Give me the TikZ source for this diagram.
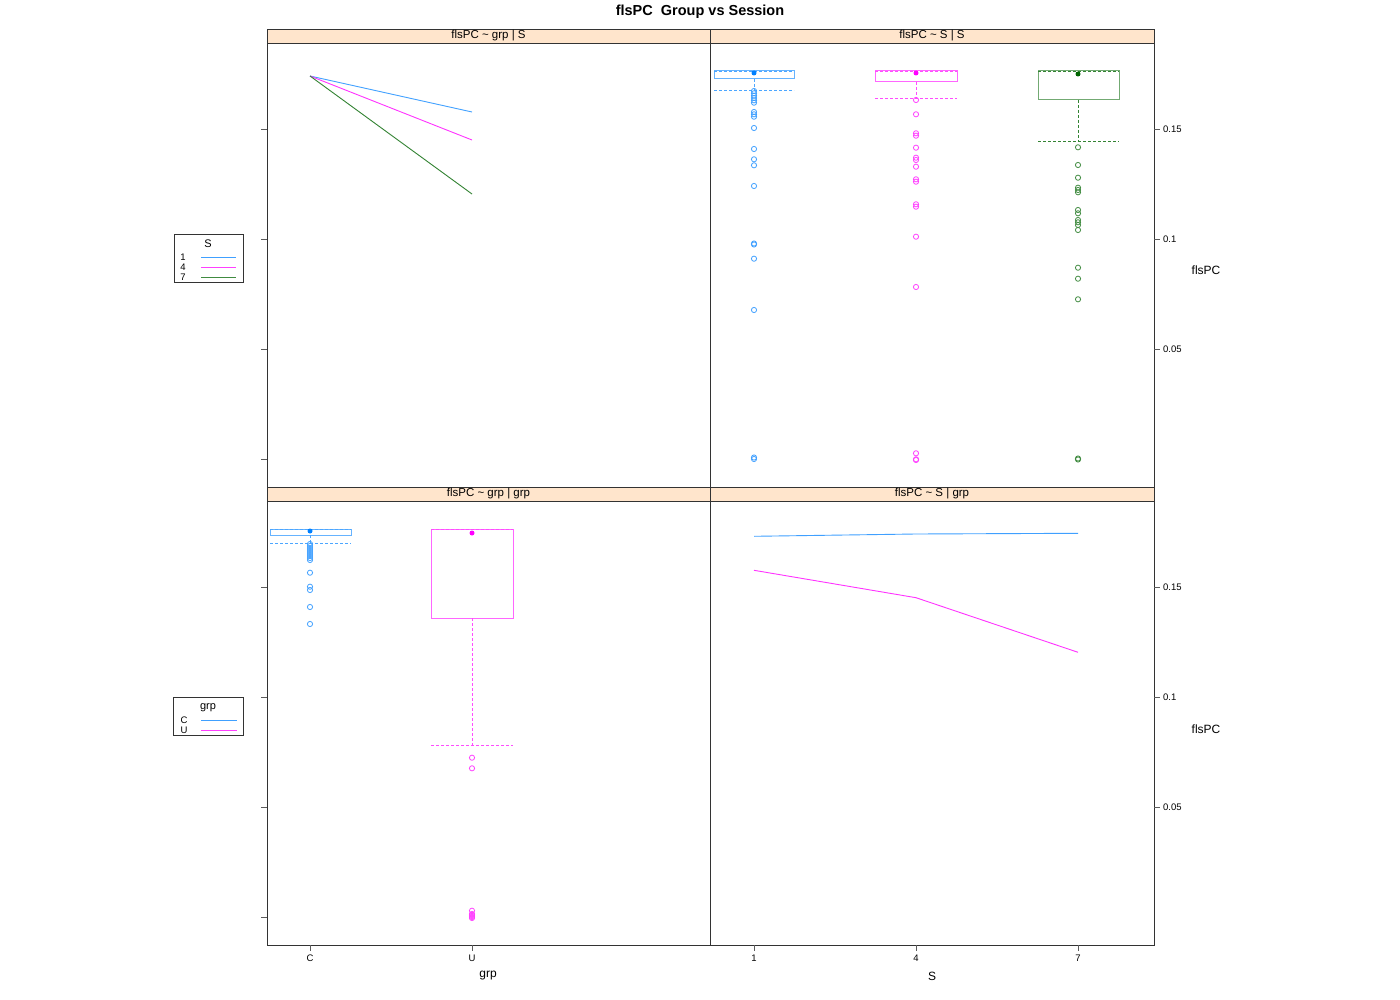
\documentclass[tikz,border=0pt]{standalone}
\usepackage{fontspec}
\setmainfont{Liberation Sans}
\definecolor{sblue}{HTML}{0080FF}
\definecolor{smag}{HTML}{FF00FF}
\definecolor{sgreen}{HTML}{006400}
\definecolor{stripbg}{HTML}{FFE5CC}
\definecolor{framecol}{HTML}{333333}
\begin{document}
\begin{tikzpicture}[
    x=1pt, y=-1pt,
    panel/.style={draw=framecol, line width=0.9pt},
    strip/.style={draw=framecol, fill=stripbg, line width=0.9pt},
    striptext/.style={font=\fontsize{11.5}{13}\selectfont, inner sep=0pt},
    ticklab/.style={font=\fontsize{9.5}{11}\selectfont, inner sep=0pt},
    axlab/.style={font=\fontsize{12}{14}\selectfont, inner sep=0pt},
    tickmark/.style={draw=framecol!80, line width=0.8pt},
    boxline/.style={line width=1pt},
    whisk/.style={dash pattern=on 3pt off 2pt, line width=0.8pt},
    outl/.style={line width=0.8pt},
    dataline/.style={line width=0.9pt}
  ]
  \fill[white] (0,0) rectangle (1400,1000);
  \useasboundingbox (0,0) rectangle (1400,1000);
  \node[font=\bfseries\fontsize{14.5}{17}\selectfont] (title) at (700,12) {flsPC\ \ Group vs Session};
  % panels and strips
  \foreach \px/\py/\w/\nm/\txt in {267/29/443/tl/{grp | S}, 710/29/444/tr/{S | S},
                                    267/487/443/bl/{grp | grp}, 710/487/444/br/{S | grp}} {
    \draw[panel] (\px,\py) rectangle ++(\w,458);
    \draw[strip] (\px,\py) rectangle ++(\w,14);
    \node[striptext] (st\nm) at ([xshift=\w*0.5pt,yshift=-7pt]\px,\py) {flsPC \textasciitilde\ \txt};
  }
  % left ticks (no labels)
  \foreach \y in {129,239,349,459,587,697,807,917}
    \draw[tickmark] (261,\y) -- (267,\y);
  % right ticks
  \foreach \y/\l in {129/0.15,239/0.1,349/0.05,587/0.15,697/0.1,807/0.05} {
    \draw[tickmark] (1154,\y) -- (1160,\y);
    \node[ticklab, anchor=west] (rt\y) at (1163,\y) {\l};
  }
  % bottom ticks
  \foreach \x/\l in {310/C,472/U,754/1,916/4,1078/7} {
    \draw[tickmark] (\x,945) -- (\x,951);
    \node[ticklab] (bt\x) at (\x,958) {\l};
  }
  \node[axlab] (xgrp) at (488,976) {grp};
  \node[axlab] (xS) at (932,976) {S};
  \node[axlab] (ytop) at (1206,270) {flsPC};
  \node[axlab] (ybot) at (1206,729) {flsPC};

  % top left: lines by S
  \coordinate (tlC) at (310,76);
  \draw[dataline, sblue!75] (tlC) -- (472,112);
  \draw[dataline, smag!80] (tlC) -- (472,140);
  \draw[dataline, sgreen!80] (tlC) -- (472,194);

  % top right: boxplots by S
  \draw[boxline, sblue!60] (714,71) rectangle (794,79);
  \draw[whisk, sblue!70] (714,71) -- (794,71) (754,79) -- (754,90) (714,90) -- (794,90);
  \fill[sblue] (754,73) circle (2.5);
  \foreach \y in {91,93.3,95.7,98,100.3,102.7,112,114.3,116.7,128,149,159.3,165.3,
                  186,243.5,244.5,258.7,310,457.5,459}
    \draw[outl, sblue!75] (754,\y) circle (2.6);
  \draw[boxline, smag!60] (875,71) rectangle (957,82);
  \draw[whisk, smag!70] (875,71) -- (957,71) (916,82) -- (916,98) (875,98) -- (957,98);
  \fill[smag] (916,73) circle (2.5);
  \foreach \y in {100,114.3,133.3,135.7,147.7,157.7,160,166.7,179.3,181.7,204.3,206.7,
                  236.7,287,453.3,459.3,460}
    \draw[outl, smag!75] (916,\y) circle (2.6);
  \draw[boxline, sgreen!55] (1038,71) rectangle (1119,100);
  \draw[whisk, sgreen!80] (1038,71) -- (1119,71) (1078,100) -- (1078,141.3) (1038,141.3) -- (1119,141.3);
  \fill[sgreen] (1078,74) circle (2.5);
  \foreach \y in {147.3,165,177.7,187.7,190,192.3,210,213.3,220,222.3,225,230,
                  267.7,278.7,299.3,458.5,459.5}
    \draw[outl, sgreen!75] (1078,\y) circle (2.6);

  % bottom left: boxplots by grp
  \draw[boxline, sblue!60] (270,529) rectangle (351,535);
  \draw[whisk, sblue!70] (270,529) -- (351,529) (310,535) -- (310,543.3) (270,543.3) -- (351,543.3);
  \fill[sblue] (310,531) circle (2.5);
  \foreach \y in {544,546,548,550,552,554,556,558,560,572.7,586.7,590,607,624}
    \draw[outl, sblue!75] (310,\y) circle (2.6);
  \draw[boxline, smag!60] (431,529) rectangle (513,618);
  \draw[whisk, smag!70] (431,529) -- (513,529) (472,618) -- (472,745) (431,745) -- (513,745);
  \fill[smag] (472,533) circle (2.5);
  \foreach \y in {757.7,768.3,910.7,914,915,916,917,918}
    \draw[outl, smag!75] (472,\y) circle (2.6);

  % bottom right: lines by grp
  \draw[dataline, sblue!75] (754,536.3) -- (916,534) -- (1078,533.3);
  \draw[dataline, smag!80] (754,570.3) -- (916,597.7) -- (1078,652.3);

  % legends
  \draw[framecol, line width=0.9pt] (174,234) rectangle (243,282);
  \node[ticklab, font=\fontsize{11}{12}\selectfont] (legS) at (208,244) {S};
  \foreach \y/\l/\c in {257.5/1/sblue, 267.3/4/smag, 277/7/sgreen} {
    \node[ticklab] (legS\l) at (183,\y) {\l};
    \draw[dataline, \c!75] (201,\y) -- (236,\y);
  }
  \draw[framecol, line width=0.9pt] (173,697) rectangle (243,735);
  \node[ticklab, font=\fontsize{11}{12}\selectfont] (legG) at (208,708) {grp};
  \foreach \y/\l/\c in {720/C/sblue, 730/U/smag} {
    \node[ticklab] (legG\l) at (184,\y) {\l};
    \draw[dataline, \c!75] (201,\y) -- (237,\y);
  }
\end{tikzpicture}
\end{document}
